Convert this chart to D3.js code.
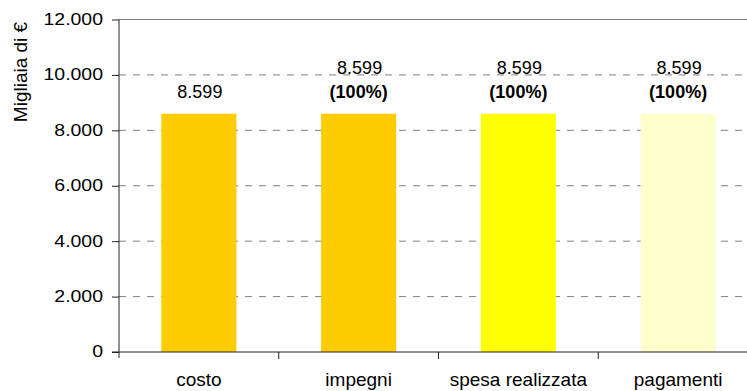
<!DOCTYPE html>
<html><head><meta charset="utf-8">
<script src="https://cdn.jsdelivr.net/npm/d3@7"></script>
<style>
body{margin:0;background:#fff;}
text{font-family:"Liberation Sans",Arial,sans-serif;fill:#000;}
</style></head>
<body><svg id="c" width="747" height="391"></svg>
<script>
const categories = ["costo", "impegni", "spesa realizzata", "pagamenti"];
const values = [8599, 8599, 8599, 8599];
const valueLabels = ["8.599", "8.599", "8.599", "8.599"];
const pctLabels = [null, "(100%)", "(100%)", "(100%)"];
const barColors = ["#FFCC00", "#FFCC00", "#FFFF00", "#FFFFCC"];
const yTicks = [0, 2000, 4000, 6000, 8000, 10000, 12000];
const yTickLabels = ["0", "2.000", "4.000", "6.000", "8.000", "10.000", "12.000"];
const yTitle = "Migliaia di €";

const svg = d3.select("#c");
const mLeft = 119, mRight = 758, mTop = 19.5, mBottom = 352;
const x = d3.scaleBand().domain(categories).range([mLeft, mRight]);
const y = d3.scaleLinear().domain([0, 12000]).range([mBottom, mTop]);
const bw = x.bandwidth() * 0.47;

// gridlines
svg.append("g").selectAll("line").data(yTicks.filter(t => t > 0)).join("line")
  .attr("x1", mLeft).attr("x2", 747)
  .attr("y1", d => y(d)).attr("y2", d => y(d))
  .attr("stroke", "#808080").attr("stroke-width", 1)
  .attr("stroke-dasharray", d => d === 12000 ? null : "7,7");

// bars
svg.append("g").selectAll("rect").data(values).join("rect")
  .attr("x", (d, i) => x(categories[i]) + (x.bandwidth() - bw) / 2)
  .attr("y", d => y(d)).attr("width", bw).attr("height", d => y(0) - y(d))
  .attr("fill", (d, i) => barColors[i]);

// y axis
const sx = 1.18;
const yAxis = d3.axisLeft(y).tickValues(yTicks).tickSize(7)
  .tickFormat((d, i) => yTickLabels[i]);
const gy = svg.append("g").attr("transform", `translate(${mLeft},0)`).call(yAxis);
gy.select(".domain").attr("d", `M0,${mTop}V${mBottom + 6}`).attr("stroke", "#222");
gy.selectAll(".tick line").attr("stroke", "#222");
gy.selectAll(".tick text").attr("font-size", 16.5).attr("x", -16 / sx).attr("dy", "0.3em")
  .attr("transform", `scale(${sx},1)`)
  .style("font-family", "Liberation Sans, Arial, sans-serif").attr("fill", "#000");

// x axis
const bounds = categories.slice(1).map(c => x(c));
const gx = svg.append("g");
gx.append("line").attr("x1", mLeft - 7).attr("x2", 747).attr("y1", mBottom).attr("y2", mBottom)
  .attr("stroke", "#222");
gx.selectAll("line.t").data(bounds).join("line").attr("class", "t")
  .attr("x1", d => d).attr("x2", d => d).attr("y1", mBottom).attr("y2", mBottom + 7)
  .attr("stroke", "#222");
gx.selectAll("text").data(categories).join("text")
  .attr("x", d => x(d) + x.bandwidth() / 2).attr("y", 386)
  .attr("text-anchor", "middle").attr("font-size", 19).text(d => d);

// value labels
svg.append("g").selectAll("text").data(values).join("text")
  .attr("x", (d, i) => x(categories[i]) + x.bandwidth() / 2 + 1)
  .attr("y", (d, i) => y(d) - (pctLabels[i] ? 40 : 16))
  .attr("text-anchor", "middle").attr("font-size", 18)
  .text((d, i) => valueLabels[i]);
const pctIdx = categories.map((c, i) => i).filter(i => pctLabels[i]);
svg.append("g").selectAll("text").data(pctIdx).join("text")
  .attr("x", i => x(categories[i]) + x.bandwidth() / 2)
  .attr("y", i => y(values[i]) - 16)
  .attr("text-anchor", "middle").attr("font-size", 18).attr("font-weight", "bold")
  .text(i => pctLabels[i]);

// y title
svg.append("text").attr("transform", "translate(27,72) rotate(-90)")
  .attr("text-anchor", "middle").attr("font-size", 19).text(yTitle);
</script></body></html>
